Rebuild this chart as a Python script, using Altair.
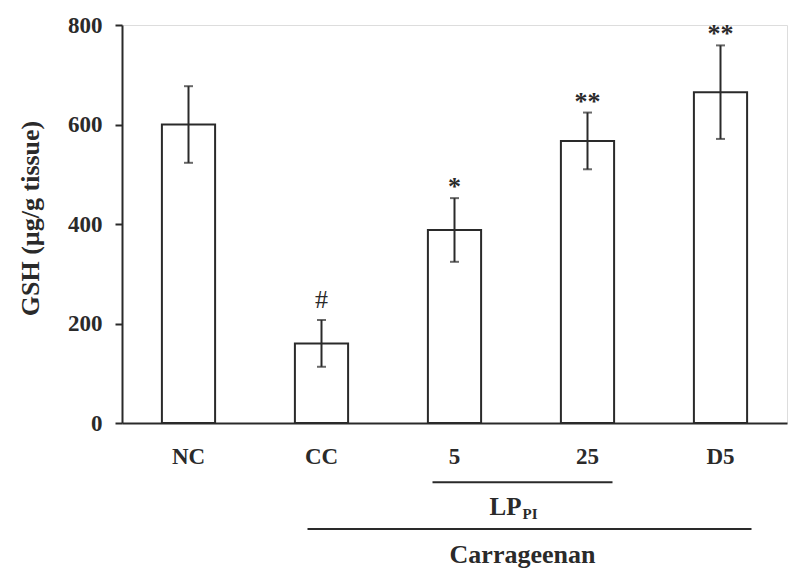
import altair as alt
import pandas as pd

groups = ["NC", "CC", "5", "25", "D5"]
gsh_mean = [600, 160, 388, 567, 665]
gsh_err = [77, 47, 64, 57, 94]
signif = ["", "#", "*", "**", "**"]

bracket_labels = ["LP", "Carrageenan"]
bracket_start = ["5", "CC"]
bracket_end = ["25", "D5"]

df = pd.DataFrame({
    "group": groups,
    "mean": gsh_mean,
    "err": gsh_err,
    "sig": signif,
})
df["lo"] = df["mean"] - df["err"]
df["hi"] = df["mean"] + df["err"]

FONT = "Liberation Serif"
INK = "#2a2a2a"

xscale = alt.Scale(domain=groups, paddingInner=0.6, paddingOuter=0.3)
yscale = alt.Scale(domain=[0, 800])

x = alt.X("group:N", scale=xscale, sort=groups,
          axis=alt.Axis(title=None, labelAngle=0, ticks=False, labelPadding=22,
                        labelFont=FONT, labelFontSize=23, labelFontWeight="bold",
                        labelColor=INK, domainColor=INK, domainWidth=2))
xg = alt.X("group:N", scale=xscale, sort=groups)

base = alt.Chart(df)

bars = base.mark_bar(fill="white", stroke=INK, strokeWidth=2).encode(
    x=x,
    y=alt.Y("mean:Q", scale=yscale,
            axis=alt.Axis(title="GSH (µg/g tissue)", values=[0, 200, 400, 600, 800],
                          grid=False, tickSize=7, tickWidth=2, tickColor=INK,
                          domainColor=INK, domainWidth=2, labelPadding=13,
                          labelFont=FONT, labelFontSize=23, labelFontWeight="bold",
                          labelColor=INK, titleFont=FONT, titleFontSize=26,
                          titleFontWeight="bold", titleColor=INK,
                          titleX=-92, titleY=193, titleBaseline="middle")),
)

err_line = base.mark_rule(color=INK, strokeWidth=2).encode(
    x=xg, y="lo:Q", y2="hi:Q",
)
cap_hi = base.mark_tick(color=INK, size=9, thickness=2).encode(x=xg, y="hi:Q")
cap_lo = base.mark_tick(color=INK, size=9, thickness=2).encode(x=xg, y="lo:Q")

hash_text = base.transform_filter("datum.sig == '#'").mark_text(
    font=FONT, fontSize=26, color=INK, dy=-20, baseline="middle").encode(
    x=xg, y="hi:Q", text="sig:N")
star_text = base.transform_filter("indexof(datum.sig, '*') >= 0").mark_text(
    font=FONT, fontSize=26, fontWeight="bold", color=INK, dy=-11,
    baseline="middle").encode(x=xg, y="hi:Q", text="sig:N")

br_df = pd.DataFrame({"label": bracket_labels, "start": bracket_start,
                      "end": bracket_end, "level": [-119, -213]})

lp_line = alt.Chart(br_df.iloc[[0]]).mark_rule(
    color=INK, strokeWidth=2, xOffset=-22, x2Offset=25).encode(
    x=alt.X("start:N", scale=xscale, sort=groups),
    x2="end:N",
    y=alt.Y("level:Q", scale=yscale))
car_line = alt.Chart(br_df.iloc[[1]]).mark_rule(
    color=INK, strokeWidth=2, xOffset=-14, x2Offset=31).encode(
    x=alt.X("start:N", scale=xscale, sort=groups),
    x2="end:N",
    y=alt.Y("level:Q", scale=yscale))

lp_text = alt.Chart(br_df.iloc[[0]]).mark_text(
    font=FONT, fontSize=25, fontWeight="bold", color=INK, align="right",
    baseline="middle", dx=67).encode(
    x=alt.X("start:N", scale=xscale, sort=groups),
    y=alt.Y("ylab:Q", scale=yscale), text="label:N").transform_calculate(ylab="-169")
pi_text = alt.Chart(br_df.iloc[[0]]).mark_text(
    font=FONT, fontSize=15, fontWeight="bold", color=INK, align="left",
    baseline="middle", dx=68, dy=7).encode(
    x=alt.X("start:N", scale=xscale, sort=groups),
    y=alt.Y("ylab:Q", scale=yscale), text=alt.value("PI")).transform_calculate(ylab="-169")
car_text = alt.Chart(br_df.iloc[[1]]).mark_text(
    font=FONT, fontSize=26, fontWeight="bold", color=INK, align="center",
    baseline="middle", dx=201).encode(
    x=alt.X("start:N", scale=xscale, sort=groups),
    y=alt.Y("ylab:Q", scale=yscale), text="label:N").transform_calculate(ylab="-265")

chart = alt.layer(bars, err_line, cap_hi, cap_lo, hash_text, star_text, lp_line,
                  car_line, lp_text, pi_text, car_text).properties(
    width=665, height=398,
    autosize=alt.AutoSizeParams(type="none"),
    padding={"left": 114, "top": 17, "right": 1, "bottom": 150},
).configure_view(stroke=None).configure(background="white")

chart.save("out.html", embed_options={"renderer": "svg", "actions": False})
